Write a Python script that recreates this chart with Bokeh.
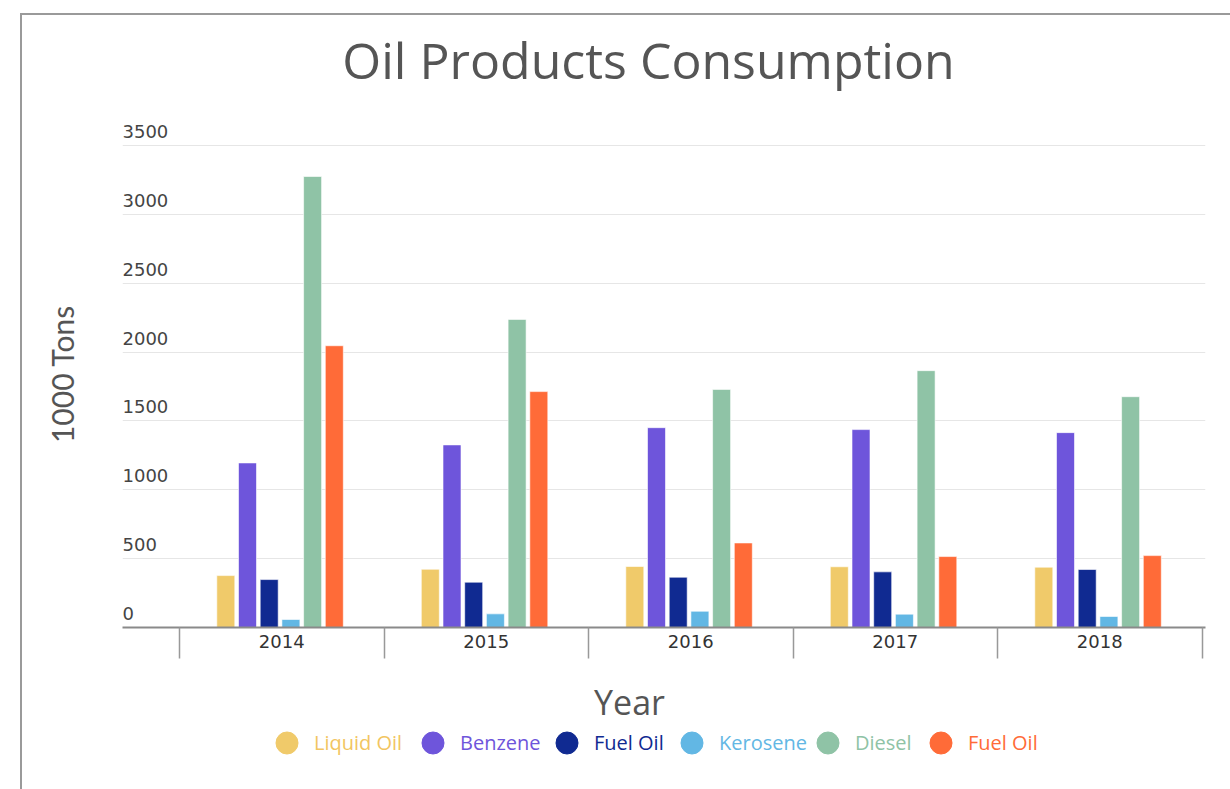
import numpy as np
from bokeh.plotting import figure
from bokeh.layouts import column
from bokeh.models import ColumnDataSource, FixedTicker, Legend, LegendItem, Range1d, Label
from bokeh.transform import dodge
from bokeh.core.properties import value
from bokeh.embed import file_html
from bokeh.resources import INLINE

# ---------------- data ----------------
title_text = "Oil Products Consumption"
x_title = "Year"
y_title = "1000 Tons"
years = ["2014", "2015", "2016", "2017", "2018"]
series_names = ["Liquid Oil", "Benzene", "Fuel Oil", "Kerosene", "Diesel", "Fuel Oil"]
liquid_oil = [377, 423, 443, 441, 438]
benzene = [1195, 1326, 1451, 1437, 1415]
fuel_oil = [348, 329, 365, 404, 421]
kerosene = [58, 99, 118, 97, 80]
diesel = [3275, 2237, 1729, 1865, 1676]
fuel_oil_heavy = [2046, 1713, 614, 515, 522]
y_ticks = [0, 500, 1000, 1500, 2000, 2500, 3000, 3500]

# ---------------- style ----------------
colors = ["#F0CA6A", "#6E55DB", "#102A91", "#62B7E4", "#8FC3A6", "#FF6B38"]
text_colors = ["#F2C561", "#6E55DB", "#102A91", "#62B7E4", "#8FC3A6", "#FF6B38"]
W = 1208
OX, OY = 22, 15          # layout origin on page
TITLE_BOTTOM = 105       # page y where title strip ends
LEG_TOP = 672            # page y where bottom strip (x title + legend) starts
TH = TITLE_BOTTOM - OY
MAIN_H = LEG_TOP - TITLE_BOTTOM
LEG_H = 789 - LEG_TOP
FL, FR = 100, 25
FT = 120 - TITLE_BOTTOM
FB = LEG_TOP - 627
frame_w = W - FL - FR
cat_px = 204.5
x_start = -0.5 - 57 / cat_px
x_end = x_start + frame_w / cat_px
frame_h = MAIN_H - FT - FB
y_end = 3500 * frame_h / (frame_h - 25)


def strip(h):
    f = figure(width=W, height=h, output_backend="svg", toolbar_location=None,
               x_range=Range1d(FL, W - FR), y_range=Range1d(0, h),
               x_axis_location=None, y_axis_location=None,
               min_border_left=FL, min_border_right=FR, min_border_top=0, min_border_bottom=0,
               outline_line_color=None, border_fill_color="white", background_fill_color="white")
    f.grid.visible = False
    return f


# ---------------- title strip ----------------
title_fig = strip(TH)
title_fig.add_layout(Label(x=648 - OX, y=TH - (59 - OY), text=title_text,
                           text_align="center", text_baseline="middle",
                           text_font="Open Sans", text_font_size="50px",
                           text_color="#555555"))

# ---------------- main chart ----------------
p = figure(width=W, height=MAIN_H, output_backend="svg", toolbar_location=None,
           x_range=Range1d(x_start, x_end), y_range=Range1d(0, y_end),
           min_border_left=FL, min_border_right=FR, min_border_top=FT, min_border_bottom=FB,
           outline_line_color=None, background_fill_color="white", border_fill_color="white")

xs = list(range(len(years)))
src = ColumnDataSource(dict(x=xs, s0=liquid_oil, s1=benzene, s2=fuel_oil,
                            s3=kerosene, s4=diesel, s5=fuel_oil_heavy))
pitch = 21.7 / cat_px
bw = 18 / cat_px
shift = -1.7 / cat_px
for k in range(6):
    off = (k - 2.5) * pitch + shift
    p.vbar(x=dodge("x", off, range=p.x_range), top=f"s{k}", width=bw, source=src,
           fill_color=colors[k], line_color="white", line_width=0.6)

xa = p.xaxis[0]
xa.ticker = FixedTicker(ticks=xs, minor_ticks=[i - 0.5 for i in range(len(years) + 1)])
xa.major_label_overrides = {i: y for i, y in enumerate(years)}
xa.major_tick_line_color = None
xa.major_tick_out = 0
xa.major_tick_in = 0
xa.minor_tick_out = 31
xa.minor_tick_in = 0
xa.minor_tick_line_color = "#999999"
xa.minor_tick_line_width = 1.5
xa.axis_line_color = "#8a8a8a"
xa.axis_line_width = 2
xa.major_label_standoff = -24
xa.major_label_text_font = "DejaVu Sans"
xa.major_label_text_font_size = "18px"
xa.major_label_text_color = "#333333"

ya = p.yaxis[0]
ya.ticker = FixedTicker(ticks=[])
ya.axis_line_color = None
ya.major_tick_out = 0
ya.major_tick_in = 0
ya.minor_tick_line_color = None
ya.major_label_text_font_size = "0px"
ya.axis_label = y_title
ya.axis_label_text_font = "Lato"
ya.axis_label_text_font_size = "30px"
ya.axis_label_text_font_style = "normal"
ya.axis_label_text_color = "#555555"
ya.axis_label_standoff = 43

p.xgrid.grid_line_color = None
p.ygrid.ticker = FixedTicker(ticks=y_ticks)
p.ygrid.grid_line_color = "#e6e6e6"
p.ygrid.grid_line_width = 1

p.text(x=[x_start] * len(y_ticks), y=y_ticks, text=[str(t) for t in y_ticks],
       text_font=value("DejaVu Sans"), text_font_size="18px", text_color="#444444",
       text_align="left", text_baseline="alphabetic", y_offset=-14)

# ---------------- bottom strip: x title + legend ----------------
leg_fig = strip(LEG_H)
leg_fig.add_layout(Label(x=629 - OX, y=LEG_H - (701 - LEG_TOP), text=x_title,
                         text_align="center", text_baseline="middle",
                         text_font="Open Sans", text_font_size="34px",
                         text_color="#555555"))
legend_text_x = [311, 457, 591, 716, 852, 965]   # page x where each label starts
G = 55
for k in range(6):
    r = leg_fig.scatter(x=[np.nan], y=[np.nan], marker="circle",
                        fill_color=colors[k], line_color=colors[k])
    left = legend_text_x[k] + 3 - G - OX
    top = 742 - LEG_TOP - G / 2
    leg = Legend(items=[LegendItem(label=series_names[k], renderers=[r])],
                 location=(left - FL, LEG_H - top - G),
                 glyph_width=G, glyph_height=G, label_standoff=0,
                 padding=0, margin=0, spacing=0, border_line_color=None,
                 background_fill_alpha=0, label_text_font="Open Sans",
                 label_text_font_size="20px", label_text_color=text_colors[k])
    leg_fig.add_layout(leg, "center")

layout = column(title_fig, p, leg_fig, spacing=0)
layout.styles = {"margin-left": "20px", "margin-top": "13px",
                 "border-left": "2px solid #9a9a9a", "border-top": "2px solid #9a9a9a"}

open("out.html", "w").write(file_html(layout, INLINE))
